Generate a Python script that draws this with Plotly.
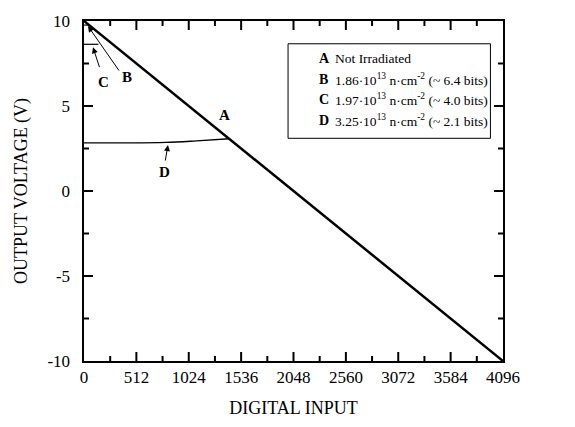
import plotly.graph_objects as go

# Data
a_x = [0, 4096]
a_y = [10, -10]
b_x = [0, 50]
b_y = [9.76, 9.76]
c_x = [0, 140]
c_y = [8.63, 8.63]
d_x = [0, 400, 800, 1100, 1420]
d_y = [2.83, 2.83, 2.86, 2.95, 3.07]

x_ticks = [0, 512, 1024, 1536, 2048, 2560, 3072, 3584, 4096]
y_ticks = [-10, -5, 0, 5, 10]
x_minor = [256, 768, 1280, 1792, 2304, 2816, 3328, 3840]
y_minor = [-7.5, -2.5, 2.5, 7.5]

legend_keys = ["A", "B", "C", "D"]
legend_texts = [
    "Not Irradiated",
    "1.86·10<sup>13</sup> n·cm<sup>-2</sup> (~ 6.4 bits)",
    "1.97·10<sup>13</sup> n·cm<sup>-2</sup> (~ 4.0 bits)",
    "3.25·10<sup>13</sup> n·cm<sup>-2</sup> (~ 2.1 bits)",
]

FONT = "Liberation Serif"

fig = go.Figure()
fig.add_trace(go.Scatter(x=a_x, y=a_y, mode="lines", line=dict(color="black", width=2.5)))
fig.add_trace(go.Scatter(x=b_x, y=b_y, mode="lines", line=dict(color="black", width=1.2)))
fig.add_trace(go.Scatter(x=c_x, y=c_y, mode="lines", line=dict(color="black", width=1.2)))
fig.add_trace(go.Scatter(x=d_x, y=d_y, mode="lines", line=dict(color="black", width=1.4, shape="spline")))

fig.update_xaxes(
    range=[0, 4096], tickvals=x_ticks, ticks="", showline=True, linecolor="black", linewidth=2,
    mirror=True, showgrid=False, zeroline=False,
    tickfont=dict(family=FONT, size=17, color="black"),
    title=dict(text="DIGITAL INPUT", font=dict(family=FONT, size=18, color="black")),
)
fig.update_yaxes(
    range=[-10, 10], tickvals=y_ticks, ticktext=[str(v) + "  " for v in y_ticks], ticks="",
    showline=True, linecolor="black", linewidth=2, mirror=True, showgrid=False, zeroline=False,
    tickfont=dict(family=FONT, size=17, color="black"),
    title=dict(text="OUTPUT VOLTAGE (V)", font=dict(family=FONT, size=18, color="black")),
)

# tick marks (inside, on all four sides) built from the tick arrays
shapes = []
tick_line = dict(color="black", width=2)
for vals, length in ((x_ticks[1:-1], 9), (x_minor, 5)):
    for v in vals:
        shapes.append(dict(type="line", xref="x", yref="paper", ysizemode="pixel", yanchor=0,
                           x0=v, x1=v, y0=0, y1=length, line=tick_line))
        shapes.append(dict(type="line", xref="x", yref="paper", ysizemode="pixel", yanchor=1,
                           x0=v, x1=v, y0=0, y1=-length, line=tick_line))
for vals, length in ((y_ticks[1:-1], 9), (y_minor, 5)):
    for v in vals:
        shapes.append(dict(type="line", yref="y", xref="paper", xsizemode="pixel", xanchor=0,
                           y0=v, y1=v, x0=0, x1=length, line=tick_line))
        shapes.append(dict(type="line", yref="y", xref="paper", xsizemode="pixel", xanchor=1,
                           y0=v, y1=v, x0=0, x1=-length, line=tick_line))

# legend frame
shapes.append(dict(type="rect", xref="paper", yref="paper", x0=0.487, x1=0.970, y0=0.655, y1=0.933,
                   line=dict(color="black", width=1), fillcolor="rgba(0,0,0,0)"))

annotations = []
# curve labels
annotations.append(dict(x=1378, y=4.5, xref="x", yref="y", text="<b>A</b>", showarrow=False,
                        font=dict(family=FONT, size=15, color="black")))
annotations.append(dict(x=420, y=6.7, xref="x", yref="y", text="<b>B</b>", showarrow=False,
                        font=dict(family=FONT, size=15, color="black")))
annotations.append(dict(x=186, y=6.4, xref="x", yref="y", text="<b>C</b>", showarrow=False,
                        font=dict(family=FONT, size=15, color="black")))
annotations.append(dict(x=790, y=1.1, xref="x", yref="y", text="<b>D</b>", showarrow=False,
                        font=dict(family=FONT, size=15, color="black")))
# arrows
for hx, hy, tx, ty in [(39, 9.7, 352, 7.0), (88, 8.45, 156, 7.2), (821, 2.7, 792, 1.7)]:
    annotations.append(dict(x=hx, y=hy, ax=tx, ay=ty, xref="x", yref="y", axref="x", ayref="y",
                            text="", showarrow=True, arrowhead=2, arrowsize=1.2, arrowwidth=1,
                            arrowcolor="black"))

# legend box text
x0_letter = 0.556
x0_text = 0.594
y_start = 0.890
dy = 0.061
for i, (k, t) in enumerate(zip(legend_keys, legend_texts)):
    yy = y_start - i * dy
    annotations.append(dict(x=x0_letter, y=yy, xref="paper", yref="paper", text="<b>" + k + "</b>",
                            showarrow=False, xanchor="left", yanchor="middle",
                            font=dict(family=FONT, size=14, color="black")))
    annotations.append(dict(x=x0_text, y=yy, xref="paper", yref="paper", text=t,
                            showarrow=False, xanchor="left", yanchor="middle",
                            font=dict(family=FONT, size=13.5, color="black")))

fig.update_layout(
    width=575, height=427,
    margin=dict(l=84, r=72, t=17, b=64),
    paper_bgcolor="white", plot_bgcolor="white",
    showlegend=False,
    annotations=annotations,
    shapes=shapes,
)

fig.write_html("out.html")
